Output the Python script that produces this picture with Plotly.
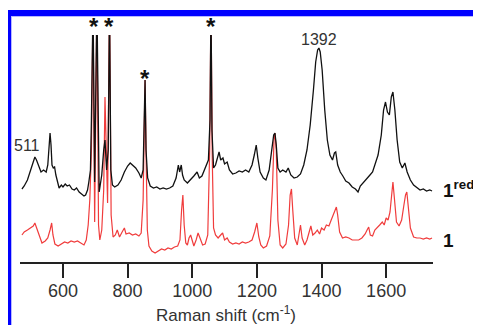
import plotly.graph_objects as go

# Raman shift (cm-1) and intensity (arb. units, spectra stacked)
shift_red1 = [473, 480, 490, 500, 508, 513, 518, 525, 532, 540, 548, 553, 557, 560, 563, 566, 570, 574, 578,
              583, 588, 595, 600, 607, 613, 620, 628, 635, 642, 650, 658, 665, 670, 676, 680, 685, 688, 693,
              698, 705, 712, 720, 726, 730, 735, 740, 744, 748, 753, 760, 770, 780, 790, 800, 808, 815, 825,
              835, 842, 848, 852, 854, 857, 862, 870, 880, 890, 900, 910, 920, 930, 940, 950, 957, 961, 966,
              970, 975, 985, 995, 1005, 1015, 1022, 1030, 1040, 1050, 1055, 1058, 1061, 1066, 1072, 1078,
              1083, 1088, 1095, 1100, 1108, 1115, 1125, 1135, 1145, 1155, 1165, 1175, 1185, 1192, 1198, 1203,
              1210, 1220, 1228, 1238, 1246, 1252, 1256, 1260, 1265, 1272, 1280, 1290, 1297, 1305, 1315, 1325,
              1335, 1345, 1355, 1365, 1375, 1382, 1388, 1392, 1396, 1402, 1410, 1418, 1426, 1434, 1440, 1444,
              1450, 1458, 1466, 1475, 1485, 1495, 1505, 1513, 1520, 1530, 1540, 1550, 1558, 1565, 1575, 1585,
              1592, 1598, 1604, 1610, 1616, 1621, 1627, 1634, 1642, 1650, 1658, 1665, 1675, 1685, 1695, 1705,
              1715, 1725, 1735, 1742]
int_red1 = [73, 76, 82, 92, 102, 105, 102, 95, 90, 92, 90, 97, 122, 129, 117, 97, 94, 95, 87,
            79, 74, 77, 75, 78, 76, 77, 73, 72, 74, 70, 68, 66, 67, 72, 80, 92, 142, 260,
            80, 260, 70, 87, 112, 122, 92, 112, 260, 92, 77, 75, 77, 82, 90, 96, 99, 97, 94,
            89, 84, 92, 142, 182, 112, 84, 76, 74, 75, 73, 74, 73, 74, 76, 84, 97, 90, 97,
            87, 82, 79, 82, 86, 90, 84, 86, 94, 102, 142, 260, 132, 94, 97, 104,
            110, 102, 104, 98, 100, 92, 88, 89, 91, 90, 92, 90, 97, 107, 117, 104,
            90, 84, 82, 92, 112, 127, 129, 117, 94, 90, 92, 90, 94, 87, 84, 85,
            88, 97, 112, 137, 172, 200, 212, 214, 210, 192, 152, 122, 107, 102, 109, 110,
            97, 90, 86, 81, 79, 75, 73, 70, 76, 80, 84, 87, 90, 97, 107, 127,
            152, 160, 150, 147, 165, 170, 152, 122, 100, 94, 99, 90, 82, 77, 74, 72,
            73, 71, 72, 71]

shift_1 = [473, 480, 490, 500, 508, 513, 520, 527, 535, 545, 553, 560, 565, 569, 575, 585, 595, 605, 615,
           625, 635, 645, 655, 665, 672, 678, 683, 688, 693, 698, 705, 710, 714, 720, 726, 730, 734, 738,
           744, 749, 755, 762, 768, 775, 783, 790, 795, 805, 815, 825, 835, 842, 848, 852, 854, 857, 861,
           866, 875, 885, 895, 905, 915, 925, 935, 945, 955, 962, 967, 971, 975, 980, 985, 990, 995, 1000,
           1005, 1012, 1018, 1024, 1032, 1040, 1048, 1054, 1058, 1062, 1066, 1072, 1080, 1088, 1094, 1100,
           1108, 1115, 1125, 1135, 1145, 1155, 1165, 1175, 1185, 1193, 1200, 1206, 1212, 1220, 1230, 1240,
           1248, 1253, 1256, 1260, 1265, 1272, 1280, 1290, 1298, 1303, 1307, 1311, 1317, 1325, 1330, 1335,
           1340, 1348, 1355, 1362, 1367, 1373, 1380, 1387, 1394, 1400, 1408, 1415, 1423, 1430, 1437, 1442,
           1446, 1450, 1456, 1465, 1475, 1485, 1495, 1505, 1515, 1525, 1535, 1541, 1546, 1551, 1558, 1565,
           1572, 1580, 1588, 1594, 1600, 1606, 1612, 1617, 1621, 1626, 1632, 1640, 1648, 1655, 1660, 1664,
           1668, 1675, 1685, 1695, 1705, 1715, 1725, 1735, 1742]
int_1 = [27, 30, 32, 34, 36, 39, 32, 26, 19, 21, 24, 32, 39, 27, 18, 16, 18, 20, 19,
         21, 20, 21, 19, 17, 22, 37, 62, 112, 260, 40, 260, 37, 22, 32, 72, 165, 112, 59,
         260, 47, 25, 27, 32, 25, 30, 34, 28, 29, 27, 28, 26, 29, 62, 142, 182, 112, 32,
         16, 11, 9, 11, 13, 12, 14, 13, 15, 16, 22, 52, 67, 37, 19, 17, 24, 27, 20,
         16, 22, 29, 24, 17, 18, 27, 112, 260, 102, 34, 27, 24, 27, 29, 22,
         24, 20, 18, 19, 18, 20, 19, 20, 22, 30, 39, 25, 17, 14, 16, 26,
         72, 122, 129, 112, 42, 17, 14, 18, 37, 67, 73, 52, 24, 17, 30, 37,
         24, 17, 22, 32, 36, 27, 29, 32, 28, 34, 32, 37, 36, 42, 47, 52,
         55, 47, 30, 24, 25, 24, 22, 22, 22, 24, 28, 32, 35, 27, 26, 32,
         34, 37, 40, 37, 44, 42, 50, 67, 80, 62, 40, 36, 42, 57, 67, 70,
         57, 34, 25, 24, 24, 23, 24, 23, 24]

x_ticks = [600, 800, 1000, 1200, 1400, 1600]
x_range = [467, 1745]
y_range = [0, 227]
star_positions = [696, 742, 853, 1058]
star_levels = [235, 235, 183, 235]
peak_labels = ["511", "1392"]
peak_label_x = [489, 1392]
peak_label_y = [117, 223]

FONT = "Liberation Sans, Arial, sans-serif"


def px_x(p):
    # reference-window pixel -> paper coordinate
    return (p - 20) / 413


def px_y(p):
    return (262 - p) / 227


fig = go.Figure()
fig.add_trace(go.Scatter(x=shift_1, y=int_1, mode="lines",
                         line=dict(color="#f03c3c", width=1.2), showlegend=False))
fig.add_trace(go.Scatter(x=shift_red1, y=int_red1, mode="lines",
                         line=dict(color="#111111", width=1.3), showlegend=False))

xa0, xa1 = x_range
annotations = []
for sx, sy in zip(star_positions, star_levels):
    annotations.append(dict(x=(sx - xa0) / (xa1 - xa0), y=sy / y_range[1], xref="paper", yref="paper",
                            text="<b>*</b>", showarrow=False,
                            font=dict(family=FONT, size=24, color="#111"), xanchor="center", yanchor="middle"))
for t, lx, ly in zip(peak_labels, peak_label_x, peak_label_y):
    annotations.append(dict(x=lx, y=ly, xref="x", yref="y", text=t, showarrow=False,
                            font=dict(family=FONT, size=16, color="#333"), xanchor="center", yanchor="middle"))
annotations.append(dict(x=px_x(441), y=px_y(189), xref="paper", yref="paper",
                        text="<b>1</b><sup><b>red</b></sup>", showarrow=False,
                        font=dict(family=FONT, size=19, color="#111"), xanchor="left", yanchor="middle"))
annotations.append(dict(x=px_x(441), y=px_y(240), xref="paper", yref="paper",
                        text="<b>1</b>", showarrow=False,
                        font=dict(family=FONT, size=19, color="#111"), xanchor="left", yanchor="middle"))
annotations.append(dict(x=px_x(226), y=px_y(314), xref="paper", yref="paper",
                        text="Raman shift (cm<sup>-1</sup>)", showarrow=False,
                        font=dict(family=FONT, size=17, color="#333"), xanchor="center", yanchor="middle"))

shapes = [
    dict(type="rect", xref="paper", yref="paper", x0=px_x(0), x1=px_x(481), y0=px_y(2.5), y1=px_y(0),
         fillcolor="#1f5c8b", line=dict(width=0), layer="above"),
    dict(type="rect", xref="paper", yref="paper", x0=px_x(6), x1=px_x(481), y0=px_y(16), y1=px_y(10),
         fillcolor="#0000ff", line=dict(width=0), layer="above"),
    dict(type="rect", xref="paper", yref="paper", x0=px_x(11), x1=px_x(480), y0=px_y(17), y1=px_y(16),
         fillcolor="#b8b8ff", line=dict(width=0), layer="above"),
    dict(type="rect", xref="paper", yref="paper", x0=px_x(6), x1=px_x(11), y0=px_y(325), y1=px_y(10),
         fillcolor="#0000ff", line=dict(width=0), layer="above"),
    dict(type="rect", xref="paper", yref="paper", x0=px_x(11), x1=px_x(12), y0=px_y(325), y1=px_y(16),
         fillcolor="#b8b8ff", line=dict(width=0), layer="above"),
    dict(type="rect", xref="paper", yref="paper", x0=px_x(479.5), x1=px_x(481), y0=px_y(325), y1=px_y(16),
         fillcolor="#b0b0ff", line=dict(width=0), layer="above"),
]

# the page body adds an 8 px margin, so the figure is 8 px smaller and margins shifted
fig.update_layout(
    width=473, height=317,
    margin=dict(l=12, r=48, t=27, b=63),
    paper_bgcolor="white", plot_bgcolor="white",
    font=dict(family=FONT, color="#333"),
    annotations=annotations, shapes=shapes,
    xaxis=dict(range=x_range, tickvals=x_ticks, ticks="outside", ticklen=14, tickwidth=2,
               tickcolor="#222", showline=True, linewidth=2, linecolor="#222", showgrid=False,
               zeroline=False, ticklabelstandoff=-3,
               tickfont=dict(family=FONT, size=18, color="#333")),
    yaxis=dict(range=y_range, visible=False, showgrid=False, zeroline=False),
)

fig.write_html("out.html")
